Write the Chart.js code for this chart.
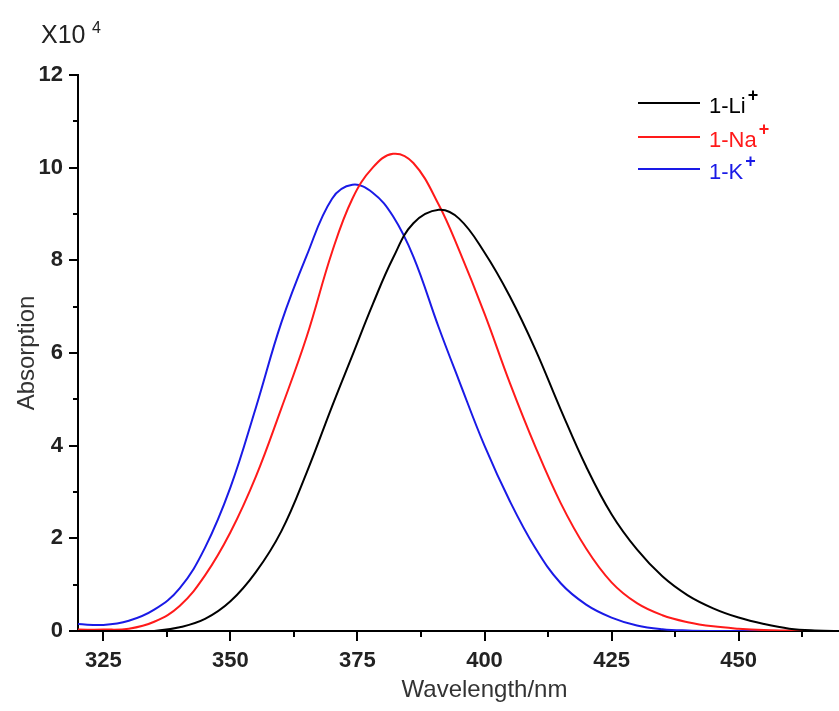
<!DOCTYPE html>
<html>
<head>
<meta charset="utf-8">
<script src="https://cdn.jsdelivr.net/npm/chart.js@4/dist/chart.umd.min.js"></script>
<style>
  html, body { margin: 0; padding: 0; overflow: hidden; background: #fff; }
  canvas { display: block; }
</style>
</head>
<body>
<canvas id="absChart" width="891" height="711"></canvas>
<script>
// Wavelength grid (nm) and absorption (x10^4)
const wavelengths = [320, 325, 330, 335, 340, 345, 350, 355, 360, 365, 370, 374, 378, 382, 386, 391, 395, 400, 405, 410, 415, 420, 425, 430, 435, 440, 445, 450, 455, 460, 465, 470, 475, 480];
const liValues = [0, 0, 0, 0, 0.08, 0.26, 0.64, 1.27, 2.15, 3.42, 4.85, 5.95, 7.05, 8.05, 8.8, 9.09, 8.9, 8.17, 7.22, 6.08, 4.78, 3.55, 2.52, 1.76, 1.18, 0.77, 0.49, 0.29, 0.15, 0.05, 0.01, 0, 0, 0];
const naValues = [0.03, 0.03, 0.05, 0.2, 0.54, 1.2, 2.13, 3.33, 4.8, 6.35, 8.18, 9.33, 10.0, 10.3, 10.1, 9.2, 8.22, 6.85, 5.35, 3.98, 2.76, 1.78, 1.05, 0.6, 0.34, 0.19, 0.1, 0.05, 0.02, 0.01, 0, 0, 0, 0];
const kValues = [0.15, 0.13, 0.22, 0.46, 0.92, 1.8, 3.1, 4.82, 6.65, 8.1, 9.33, 9.63, 9.46, 8.95, 8.08, 6.55, 5.4, 4.0, 2.8, 1.79, 1.03, 0.57, 0.29, 0.12, 0.04, 0.01, 0, 0, 0, 0, 0, 0, 0, 0];

const seriesNames = ['1-Li', '1-Na', '1-K'];
const seriesColors = ['#000000', '#ff1a1a', '#1a1ae6'];

// tick positions
const xTickValues = [325, 337.5, 350, 362.5, 375, 387.5, 400, 412.5, 425, 437.5, 450, 462.5];
const xLabelStep = 25;
const yLabelStep = 2;

const FONT = "'Liberation Sans', Arial, sans-serif";

function toPoints(values) {
    return values.map((v, i) => ({ x: wavelengths[i], y: v }));
}

// major / minor tick marks pointing outwards
const tickMarks = {
    id: 'tickMarks',
    afterDraw(chart) {
        const ctx = chart.ctx;
        const xs = chart.scales.x;
        const ys = chart.scales.y;
        ctx.save();
        ctx.strokeStyle = '#000';
        ctx.lineWidth = 2;
        xs.ticks.forEach(t => {
            const px = Math.round(xs.getPixelForValue(t.value));
            const len = t.value % xLabelStep === 0 ? 10 : 6;
            ctx.beginPath();
            ctx.moveTo(px, xs.top);
            ctx.lineTo(px, xs.top + len);
            ctx.stroke();
        });
        ys.ticks.forEach(t => {
            const py = Math.round(ys.getPixelForValue(t.value));
            const len = t.value % yLabelStep === 0 ? 9 : 5;
            ctx.beginPath();
            ctx.moveTo(ys.right, py);
            ctx.lineTo(ys.right - len, py);
            ctx.stroke();
        });
        ctx.restore();
    }
};

// legend with superscript "+" and coloured text, plus the X10^4 multiplier
const legendAndScale = {
    id: 'legendAndScale',
    afterDraw(chart) {
        const ctx = chart.ctx;
        ctx.save();
        const rowY = [103, 137, 169];
        seriesNames.forEach((name, i) => {
            ctx.strokeStyle = seriesColors[i];
            ctx.lineWidth = 2;
            ctx.beginPath();
            ctx.moveTo(638, rowY[i]);
            ctx.lineTo(700, rowY[i]);
            ctx.stroke();
            ctx.fillStyle = seriesColors[i];
            ctx.font = '22px ' + FONT;
            ctx.textBaseline = 'middle';
            ctx.textAlign = 'left';
            ctx.fillText(name, 709, rowY[i] + 4);
            const w = ctx.measureText(name).width;
            ctx.font = 'bold 18px ' + FONT;
            ctx.fillText('+', 709 + w + 2, rowY[i] - 7);
        });
        ctx.fillStyle = '#222';
        ctx.textAlign = 'left';
        ctx.textBaseline = 'alphabetic';
        ctx.font = '25px ' + FONT;
        ctx.fillText('X10', 41, 43);
        ctx.font = '16px ' + FONT;
        ctx.fillText('4', 92, 33);
        ctx.restore();
    }
};

const ctx = document.getElementById('absChart').getContext('2d');
const absChart = new Chart(ctx, {
    type: 'line',
    data: {
        datasets: [
            {
                label: seriesNames[0],
                data: toPoints(liValues),
                borderColor: seriesColors[0],
                borderWidth: 2,
                pointRadius: 0,
                tension: 0.4,
            },
            {
                label: seriesNames[1],
                data: toPoints(naValues),
                borderColor: seriesColors[1],
                borderWidth: 2,
                pointRadius: 0,
                tension: 0.4,
            },
            {
                label: seriesNames[2],
                data: toPoints(kValues),
                borderColor: seriesColors[2],
                borderWidth: 2,
                pointRadius: 0,
                tension: 0.4,
            },
        ],
    },
    options: {
        responsive: false,
        animation: false,
        layout: {
            padding: { top: 75, right: 0, bottom: 0, left: 0 },
        },
        plugins: {
            legend: { display: false },
            tooltip: { enabled: false },
        },
        scales: {
            x: {
                type: 'linear',
                min: 320,
                max: 480,
                afterBuildTicks: (scale) => {
                    scale.ticks = xTickValues.map(v => ({ value: v }));
                },
                afterFit: (scale) => { scale.height = 80; },
                grid: { drawOnChartArea: false, drawTicks: false },
                border: { display: true, color: '#000', width: 2 },
                ticks: {
                    padding: 17,
                    color: '#222',
                    font: { family: FONT, size: 22, weight: 'bold' },
                    callback: (v) => (v % xLabelStep === 0 ? v : ''),
                    maxRotation: 0,
                    autoSkip: false,
                },
                title: {
                    display: true,
                    text: 'Wavelength/nm',
                    color: '#333',
                    font: { family: FONT, size: 24 },
                    padding: { top: 0, bottom: 6 },
                },
            },
            y: {
                min: 0,
                max: 12,
                afterFit: (scale) => { scale.width = 78; },
                grid: { drawOnChartArea: false, drawTicks: false },
                border: { display: true, color: '#000', width: 2 },
                ticks: {
                    stepSize: 1,
                    padding: 15,
                    color: '#222',
                    font: { family: FONT, size: 22, weight: 'bold' },
                    callback: (v) => (v % yLabelStep === 0 ? v : ''),
                    autoSkip: false,
                },
                title: {
                    display: true,
                    text: 'Absorption',
                    color: '#333',
                    font: { family: FONT, size: 24 },
                    padding: { top: 13, bottom: 0 },
                },
            },
        },
    },
    plugins: [tickMarks, legendAndScale],
});
</script>
</body>
</html>
